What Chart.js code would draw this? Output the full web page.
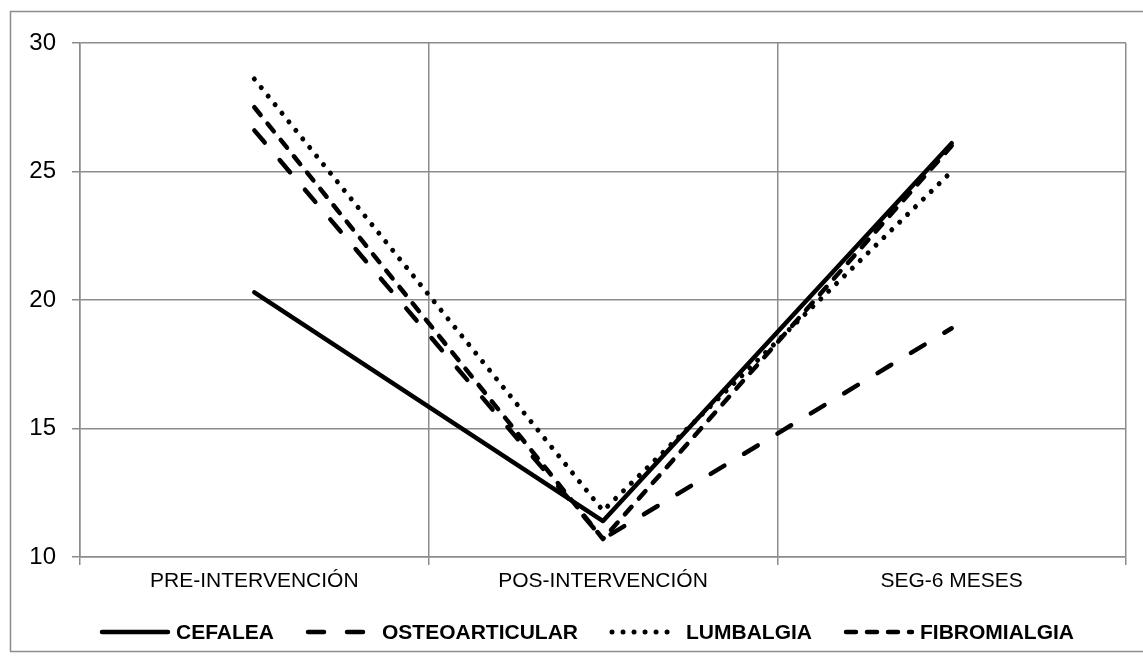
<!DOCTYPE html>
<html>
<head>
<meta charset="utf-8">
<script src="https://cdn.jsdelivr.net/npm/chart.js@4/dist/chart.umd.min.js"></script>
<style>
  html, body { margin: 0; padding: 0; background: #fff; }
  canvas { display: block; }
</style>
</head>
<body>
<canvas id="grafico" width="1143" height="662"></canvas>
<script>
  // momentos de medición y puntuación media por grupo
  const momentos = ["PRE-INTERVENCIÓN", "POS-INTERVENCIÓN", "SEG-6 MESES"];
  const cefalea = [20.3, 11.4, 26.1];
  const osteoarticular = [26.6, 10.7, 18.9];
  const lumbalgia = [28.6, 11.8, 25.0];
  const fibromialgia = [27.5, 10.7, 26.0];
  const ejeY = [10, 15, 20, 25, 30];

  const GRIS = "#8c8c8c";
  const FUENTE = "'Liberation Sans', Arial, sans-serif";

  // marco exterior gris
  const marco = {
    id: "marco",
    beforeDraw(chart) {
      const ctx = chart.ctx;
      ctx.save();
      ctx.fillStyle = "#fff";
      ctx.fillRect(0, 0, chart.width, chart.height);
      ctx.strokeStyle = GRIS;
      ctx.lineWidth = 1.5;
      ctx.strokeRect(10.5, 11.5, 1140, 640);
      ctx.restore();
    }
  };

  // leyenda inferior con muestras de trazo
  const leyenda = {
    id: "leyenda",
    afterDraw(chart) {
      const ctx = chart.ctx;
      const muestra = 70, hueco = 6, separa = 32, y = 632;
      ctx.save();
      ctx.font = "bold 21px " + FUENTE;
      ctx.textBaseline = "middle";
      const items = chart.data.datasets.map(ds => ({ ds, w: ctx.measureText(ds.label).width }));
      const total = items.reduce((s, it) => s + muestra + hueco + it.w, 0) + separa * (items.length - 1);
      let x = 587 - total / 2;
      items.forEach(it => {
        ctx.strokeStyle = "#000";
        ctx.lineWidth = it.ds.borderWidth;
        ctx.lineCap = it.ds.borderCapStyle;
        ctx.setLineDash(it.ds.borderDash);
        ctx.beginPath();
        ctx.moveTo(x + 2, y);
        ctx.lineTo(x + muestra - 2, y);
        ctx.stroke();
        ctx.setLineDash([]);
        ctx.fillStyle = "#000";
        ctx.fillText(it.ds.label, x + muestra + hueco, y + 1);
        x += muestra + hueco + it.w + separa;
      });
      ctx.restore();
    }
  };

  function serie(label, data, dash, width) {
    return {
      label: label,
      data: data,
      borderColor: "#000",
      backgroundColor: "#000",
      borderWidth: width,
      borderDash: dash,
      borderCapStyle: "round",
      borderJoinStyle: "round",
      pointRadius: 0,
      fill: false,
      tension: 0
    };
  }

  new Chart(document.getElementById("grafico"), {
    type: "line",
    data: {
      labels: momentos,
      datasets: [
        serie("CEFALEA", cefalea, [], 4.5),
        serie("OSTEOARTICULAR", osteoarticular, [16, 23], 4.5),
        serie("LUMBALGIA", lumbalgia, [0.01, 11], 5),
        serie("FIBROMIALGIA", fibromialgia, [10, 11], 4.5)
      ]
    },
    options: {
      responsive: false,
      animation: false,
      layout: { padding: { top: 43, right: 17, bottom: 0, left: 0 } },
      plugins: {
        legend: { display: false },
        tooltip: { enabled: false }
      },
      scales: {
        x: {
          offset: true,
          grid: { offset: true, color: GRIS, lineWidth: 1.5, tickLength: 8 },
          border: { color: GRIS, width: 1.5 },
          ticks: { color: "#000", padding: 4, font: { family: FUENTE, size: 21 } },
          afterFit(s) { s.height = 105; }
        },
        y: {
          min: ejeY[0],
          max: ejeY[ejeY.length - 1],
          ticks: { stepSize: ejeY[1] - ejeY[0], color: "#000", padding: 16, font: { family: FUENTE, size: 24 } },
          grid: { color: GRIS, lineWidth: 1.5, tickLength: 8 },
          border: { color: GRIS, width: 1.5 },
          afterFit(s) { s.width = 80; }
        }
      }
    },
    plugins: [marco, leyenda]
  });
</script>
</body>
</html>
